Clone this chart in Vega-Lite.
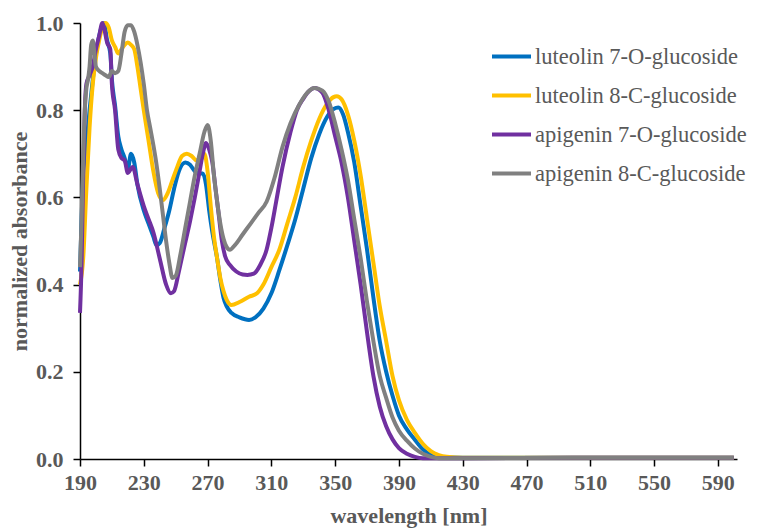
{
"$schema": "https://vega.github.io/schema/vega-lite/v6.json",
"width": 657, "height": 436,
"autosize": {"type": "none"},
"padding": {"left": 80, "top": 23, "right": 21, "bottom": 72},
"background": "white",
"config": {"view": {"stroke": null}, "font": "Liberation Serif"},
"datasets": {
"L7O": [[190,0.43],[191,0.55],[192,0.65],[194,0.72],[196,0.80],[198,0.87],[200,0.93],[202,0.97],[204,0.995],[205,1.0],[207,0.96],[209,0.93],[210,0.87],[212,0.81],[214,0.74],[216,0.71],[218,0.69],[220,0.665],[222,0.70],[224,0.68],[226,0.63],[230,0.57],[233,0.54],[236,0.51],[238,0.49],[240,0.495],[243,0.53],[246,0.57],[249,0.62],[252,0.66],[256,0.68],[259,0.675],[262,0.66],[265,0.655],[267,0.655],[269,0.63],[271,0.57],[273,0.52],[276,0.46],[278,0.41],[280,0.37],[282,0.35],[285,0.335],[290,0.325],[296,0.319],[300,0.325],[305,0.345],[310,0.38],[315,0.433],[320,0.49],[325,0.55],[330,0.62],[335,0.69],[340,0.745],[345,0.785],[349,0.803],[352,0.806],[355,0.79],[358,0.75],[362,0.68],[366,0.58],[370,0.48],[374,0.37],[378,0.27],[382,0.20],[386,0.145],[390,0.10],[395,0.068],[400,0.044],[405,0.022],[410,0.01],[416,0.004],[430,0.003],[500,0.003],[600,0.003]],
"L8C": [[190,0.40],[192,0.46],[194,0.62],[196,0.76],[198,0.86],[200,0.92],[202,0.96],[204,0.99],[206,1.0],[208,0.99],[210,0.96],[212,0.945],[214,0.93],[216,0.94],[218,0.95],[220,0.955],[222,0.95],[224,0.94],[226,0.90],[228,0.85],[230,0.80],[233,0.73],[236,0.66],[239,0.61],[242,0.594],[245,0.61],[248,0.64],[251,0.67],[254,0.695],[257,0.70],[260,0.695],[263,0.685],[266,0.688],[268,0.70],[270,0.66],[272,0.58],[274,0.51],[276,0.46],[278,0.415],[280,0.385],[282,0.365],[285,0.353],[290,0.36],[296,0.372],[301,0.38],[305,0.40],[310,0.44],[315,0.48],[320,0.54],[325,0.60],[330,0.67],[335,0.73],[340,0.78],[345,0.815],[349,0.83],[351,0.832],[354,0.825],[358,0.79],[362,0.73],[366,0.65],[370,0.55],[374,0.45],[378,0.35],[382,0.27],[386,0.19],[390,0.135],[395,0.09],[400,0.06],[405,0.035],[410,0.018],[415,0.009],[420,0.005],[430,0.003],[500,0.003],[600,0.003]],
"A7O": [[190,0.335],[191,0.45],[192,0.65],[193,0.80],[194,0.86],[196,0.88],[198,0.90],[200,0.94],[202,0.97],[204,1.0],[205,0.99],[207,0.955],[209,0.94],[210,0.86],[212,0.80],[214,0.71],[216,0.69],[218,0.685],[220,0.656],[223,0.67],[226,0.63],[230,0.58],[233,0.55],[236,0.52],[240,0.46],[244,0.40],[247,0.38],[249,0.385],[252,0.43],[255,0.48],[259,0.545],[262,0.60],[265,0.66],[267,0.70],[269,0.725],[271,0.71],[273,0.68],[275,0.62],[277,0.56],[279,0.50],[281,0.465],[284,0.445],[288,0.43],[292,0.423],[295,0.422],[299,0.425],[303,0.445],[307,0.48],[310,0.53],[313,0.59],[317,0.67],[322,0.75],[326,0.80],[330,0.826],[334,0.845],[337,0.851],[342,0.84],[346,0.80],[350,0.74],[354,0.68],[358,0.60],[362,0.50],[366,0.40],[370,0.29],[374,0.19],[378,0.12],[382,0.075],[386,0.045],[390,0.025],[395,0.012],[400,0.005],[405,0.002],[430,0.002],[500,0.003],[600,0.003]],
"A8C": [[190,0.44],[191,0.55],[192,0.70],[193,0.80],[194,0.85],[195,0.87],[196,0.90],[197,0.95],[198,0.96],[199,0.93],[200,0.90],[202,0.89],[204,0.885],[206,0.88],[208,0.876],[210,0.89],[212,0.885],[214,0.89],[216,0.93],[218,0.98],[220,0.995],[222,0.995],[224,0.98],[226,0.95],[228,0.91],[230,0.86],[232,0.80],[234,0.76],[236,0.72],[238,0.675],[240,0.62],[242,0.56],[244,0.50],[246,0.45],[248,0.415],[250,0.42],[253,0.47],[256,0.53],[259,0.59],[262,0.65],[265,0.70],[268,0.75],[270,0.766],[272,0.73],[274,0.65],[276,0.59],[278,0.54],[280,0.505],[282,0.486],[284,0.48],[287,0.49],[292,0.515],[297,0.54],[302,0.565],[307,0.59],[312,0.645],[317,0.716],[322,0.77],[328,0.816],[333,0.842],[337,0.851],[342,0.845],[346,0.82],[350,0.77],[354,0.71],[358,0.64],[362,0.55],[366,0.46],[370,0.36],[374,0.27],[378,0.19],[382,0.14],[386,0.095],[390,0.065],[395,0.042],[400,0.024],[405,0.012],[410,0.005],[415,0.002],[430,0.002],[500,0.003],[600,0.003]]
},
"layer": [
{"data": {"name": "L7O"}, "transform": [{"calculate": "'luteolin 7-O-glucoside'", "as": "s"}, {"calculate": "datum[0]", "as": "x"}, {"calculate": "datum[1]", "as": "y"}], "mark": {"type": "line", "strokeWidth": 4, "interpolate": "monotone"}, "encoding": {"x": {"field": "x", "type": "quantitative"}, "y": {"field": "y", "type": "quantitative"}, "color": {"field": "s", "type": "nominal"}}},
{"data": {"name": "L8C"}, "transform": [{"calculate": "'luteolin 8-C-glucoside'", "as": "s"}, {"calculate": "datum[0]", "as": "x"}, {"calculate": "datum[1]", "as": "y"}], "mark": {"type": "line", "strokeWidth": 4, "interpolate": "monotone"}, "encoding": {"x": {"field": "x", "type": "quantitative"}, "y": {"field": "y", "type": "quantitative"}, "color": {"field": "s", "type": "nominal"}}},
{"data": {"name": "A7O"}, "transform": [{"calculate": "'apigenin 7-O-glucoside'", "as": "s"}, {"calculate": "datum[0]", "as": "x"}, {"calculate": "datum[1]", "as": "y"}], "mark": {"type": "line", "strokeWidth": 4, "interpolate": "monotone"}, "encoding": {"x": {"field": "x", "type": "quantitative"}, "y": {"field": "y", "type": "quantitative"}, "color": {"field": "s", "type": "nominal"}}},
{"data": {"name": "A8C"}, "transform": [{"calculate": "'apigenin 8-C-glucoside'", "as": "s"}, {"calculate": "datum[0]", "as": "x"}, {"calculate": "datum[1]", "as": "y"}], "mark": {"type": "line", "strokeWidth": 4, "interpolate": "monotone"}, "encoding": {"x": {"field": "x", "type": "quantitative"}, "y": {"field": "y", "type": "quantitative"}, "color": {"field": "s", "type": "nominal"}}}
],
"resolve": {"scale": {"x": "shared", "y": "shared", "color": "shared"}},
"encoding": {
"x": {"field": "x", "type": "quantitative", "scale": {"domain": [190, 602], "nice": false, "zero": false},
 "axis": {"values": [190,230,270,310,350,390,430,470,510,550,590], "title": "wavelength [nm]", "grid": false,
  "domainColor": "black", "domainWidth": 1.5, "tickColor": "black", "tickWidth": 1.5, "tickSize": 7,
  "labelFont": "Liberation Serif", "labelFontWeight": "bold", "labelFontSize": 22, "labelColor": "#595959", "labelPadding": 6, "labelFlush": false,
  "titleFont": "Liberation Serif", "titleFontWeight": "bold", "titleFontSize": 22, "titleColor": "#595959", "titlePadding": 12}},
"y": {"field": "y", "type": "quantitative", "scale": {"domain": [0, 1], "nice": false},
 "axis": {"values": [0,0.2,0.4,0.6,0.8,1.0], "format": ".1f", "title": "normalized absorbance", "grid": false,
  "domainColor": "black", "domainWidth": 1.5, "tickColor": "black", "tickWidth": 1.5, "tickSize": 7,
  "labelFont": "Liberation Serif", "labelFontWeight": "bold", "labelFontSize": 22, "labelColor": "#595959", "labelPadding": 10, "labelFlush": false,
  "titleFont": "Liberation Serif", "titleFontWeight": "bold", "titleFontSize": 22, "titleColor": "#595959", "titlePadding": 4}},
"color": {"field": "s", "type": "nominal",
 "scale": {"domain": ["luteolin 7-O-glucoside", "luteolin 8-C-glucoside", "apigenin 7-O-glucoside", "apigenin 8-C-glucoside"], "range": ["#0070C0", "#FFC000", "#7030A0", "#808080"]},
 "legend": {"orient": "none", "legendX": 410, "legendY": 12, "title": null, "symbolType": "stroke", "symbolSize": 1521, "symbolStrokeWidth": 4,
  "labelFont": "Liberation Serif", "labelFontSize": 22.5, "labelColor": "#595959", "labelOffset": 2, "rowPadding": 6, "labelLimit": 400, "padding": 0}}
}
}
